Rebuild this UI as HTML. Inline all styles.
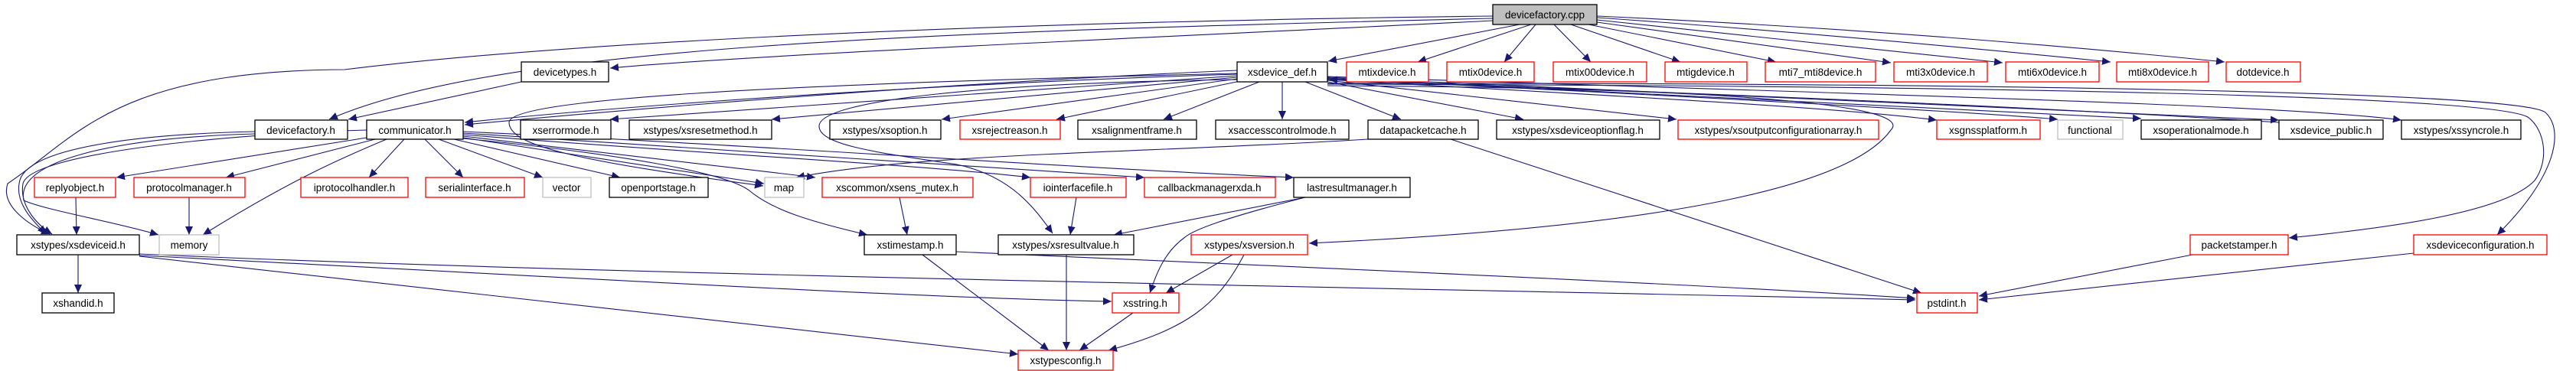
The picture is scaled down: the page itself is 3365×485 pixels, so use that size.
<!DOCTYPE html>
<html><head><meta charset="utf-8"><style>
html,body{margin:0;padding:0;background:#fff;}
svg{display:block;}
text{font-family:"Liberation Sans",sans-serif;font-size:13.5px;fill:#000;text-anchor:middle;}
.b{fill:#fff;stroke:#000;stroke-width:1.3}
.r{fill:#fff;stroke:#f00;stroke-width:1.3}
.g{fill:#fff;stroke:#bfbfbf;stroke-width:1.3}
.c{fill:#bfbfbf;stroke:#000;stroke-width:1.3}
path{fill:none;stroke:#191970;stroke-width:1.1;marker-end:url(#a)}
</style></head><body>
<svg width="3365" height="485" viewBox="0 0 3365 485" xmlns="http://www.w3.org/2000/svg">
<defs><marker id="a" markerUnits="userSpaceOnUse" markerWidth="12" markerHeight="10" refX="11" refY="5" orient="auto"><polygon points="0,0 11,5 0,10" fill="#191970"/></marker></defs>
<g>
<path d="M1985,32 L1735,80"/>
<path d="M2000,32 L1852,81"/>
<path d="M2006,32 L1965,81"/>
<path d="M2030,32 L2078,81"/>
<path d="M2052,32 L2195,81"/>
<path d="M2075,32 L2320,81"/>
<path d="M2086,29 L2470,82"/>
<path d="M2086,26 L2616,82"/>
<path d="M2086,23 Q2400,45 2757,81"/>
<path d="M2086,21 Q2500,40 2906,81"/>
<path d="M1950,27 C1600,45 1000,70 797,89"/>
<path d="M1950,24 C1200,42 650,60 430,156"/>
<path d="M681,107 L455,156"/>
<path d="M1950,21 C1200,30 700,60 450,91 C150,92 100,180 10,240 C0,270 40,295 65,306"/>
<path d="M333,172 C200,175 30,190 25,240 C20,270 50,295 60,306"/>
<path d="M333,175 C150,180 20,210 31,262 C60,275 150,290 207,307"/>
<path d="M1616,97 C1200,110 800,140 607,160"/>
<path d="M1616,92 C1200,110 800,145 607,163"/>
<path d="M1616,99 L797,156"/>
<path d="M1616,101 L1008,156"/>
<path d="M1616,103 L1230,156"/>
<path d="M1620,106 L1380,156"/>
<path d="M1645,107 L1520,156"/>
<path d="M1675,107 L1675,156"/>
<path d="M1705,107 L1830,156"/>
<path d="M1734,107 L1990,156"/>
<path d="M1734,105 L2190,156"/>
<path d="M1734,104 C2100,125 2400,140 2530,157"/>
<path d="M1734,103 C2200,125 2600,148 2688,156"/>
<path d="M1734,102 L2797,155"/>
<path d="M1734,101 L2977,157"/>
<path d="M1734,100 C2500,125 3000,138 3137,157"/>
<path d="M1734,110 C2600,112 3250,125 3302,153 C3325,170 3330,210 3311,236 C3270,280 3100,300 2990,311"/>
<path d="M1734,109 C2600,108 3290,120 3325,147 C3350,170 3340,230 3262,307"/>
<path d="M2977,160 C2500,130 2000,115 1736,104"/>
<path d="M1734,112 C2300,115 2500,140 2470,170 C2420,240 2200,295 1710,318"/>
<path d="M1616,104 C1300,108 1070,130 1070,165 C1070,190 1150,200 1250,215 C1320,230 1350,270 1375,305"/>
<path d="M1616,96 C1000,110 665,130 665,160 C665,190 750,210 997,243"/>
<path d="M479,180 L152,232"/>
<path d="M490,182 L295,232"/>
<path d="M505,182 C450,205 380,235 265,307"/>
<path d="M528,182 L482,232"/>
<path d="M555,182 L605,232"/>
<path d="M573,182 L709,232"/>
<path d="M593,182 L810,232"/>
<path d="M605,180 L998,240"/>
<path d="M605,178 L1065,232"/>
<path d="M605,176 C900,200 1200,215 1346,232"/>
<path d="M605,174 C1000,200 1300,220 1495,232"/>
<path d="M605,172 C1000,190 1400,220 1690,232"/>
<path d="M605,181 C800,200 950,225 980,250 C1010,275 1060,290 1133,307"/>
<path d="M479,170 C300,175 40,200 30,240 C25,270 50,295 68,306"/>
<path d="M99,258 L100,307"/>
<path d="M247,258 L247,307"/>
<path d="M102,333 L102,383"/>
<path d="M182,332 C800,360 2000,380 2502,392"/>
<path d="M182,334 C700,360 1200,390 1452,394"/>
<path d="M182,335 L1330,463"/>
<path d="M1249,329 C1600,345 2200,370 2502,390"/>
<path d="M1205,333 L1370,458"/>
<path d="M1175,258 L1185,307"/>
<path d="M1406,258 L1398,307"/>
<path d="M1705,258 L1455,307"/>
<path d="M1705,258 C1600,285 1560,300 1548,310 C1520,330 1510,360 1502,383"/>
<path d="M1393,333 L1393,458"/>
<path d="M1610,333 L1523,383"/>
<path d="M1625,333 C1590,400 1550,430 1448,458"/>
<path d="M1480,409 L1410,458"/>
<path d="M1787,182 C1500,200 1200,200 1040,232"/>
<path d="M1895,182 L2510,383"/>
<path d="M2864,333 L2585,387"/>
<path d="M3153,331 L2585,392"/>
</g>
<g>
<rect class="c" x="1950" y="6" width="136" height="26"/><text x="2018" y="24">devicefactory.cpp</text>
<rect class="b" x="681" y="81" width="114" height="26"/><text x="738" y="99">devicetypes.h</text>
<rect class="b" x="1616" y="81" width="118" height="26"/><text x="1675" y="99">xsdevice_def.h</text>
<rect class="r" x="1759" y="81" width="107" height="26"/><text x="1812" y="99">mtixdevice.h</text>
<rect class="r" x="1890" y="81" width="114" height="26"/><text x="1947" y="99">mtix0device.h</text>
<rect class="r" x="2029" y="81" width="122" height="26"/><text x="2090" y="99">mtix00device.h</text>
<rect class="r" x="2175" y="81" width="107" height="26"/><text x="2228" y="99">mtigdevice.h</text>
<rect class="r" x="2306" y="81" width="144" height="26"/><text x="2378" y="99">mti7_mti8device.h</text>
<rect class="r" x="2474" y="81" width="122" height="26"/><text x="2535" y="99">mti3x0device.h</text>
<rect class="r" x="2620" y="81" width="122" height="26"/><text x="2681" y="99">mti6x0device.h</text>
<rect class="r" x="2765" y="81" width="120" height="26"/><text x="2825" y="99">mti8x0device.h</text>
<rect class="r" x="2908" y="81" width="97" height="26"/><text x="2956" y="99">dotdevice.h</text>

<rect class="b" x="333" y="157" width="121" height="25"/><text x="393" y="175">devicefactory.h</text>
<rect class="b" x="479" y="157" width="126" height="25"/><text x="542" y="175">communicator.h</text>
<rect class="b" x="680" y="157" width="118" height="25"/><text x="739" y="175">xserrormode.h</text>
<rect class="b" x="822" y="157" width="186" height="25"/><text x="915" y="175">xstypes/xsresetmethod.h</text>
<rect class="b" x="1084" y="157" width="145" height="25"/><text x="1156" y="175">xstypes/xsoption.h</text>
<rect class="r" x="1254" y="157" width="131" height="25"/><text x="1319" y="175">xsrejectreason.h</text>
<rect class="b" x="1408" y="157" width="155" height="25"/><text x="1485" y="175">xsalignmentframe.h</text>
<rect class="b" x="1588" y="157" width="174" height="25"/><text x="1675" y="175">xsaccesscontrolmode.h</text>
<rect class="b" x="1787" y="157" width="144" height="25"/><text x="1859" y="175">datapacketcache.h</text>
<rect class="b" x="1955" y="157" width="213" height="25"/><text x="2061" y="175">xstypes/xsdeviceoptionflag.h</text>
<rect class="r" x="2192" y="157" width="262" height="25"/><text x="2323" y="175">xstypes/xsoutputconfigurationarray.h</text>
<rect class="r" x="2530" y="157" width="135" height="25"/><text x="2597" y="175">xsgnssplatform.h</text>
<rect class="g" x="2688" y="157" width="85" height="25"/><text x="2730" y="175">functional</text>
<rect class="b" x="2797" y="157" width="157" height="25"/><text x="2875" y="175">xsoperationalmode.h</text>
<rect class="b" x="2977" y="157" width="136" height="25"/><text x="3045" y="175">xsdevice_public.h</text>
<rect class="b" x="3137" y="157" width="156" height="25"/><text x="3215" y="175">xstypes/xssyncrole.h</text>

<rect class="r" x="45" y="232" width="106" height="26"/><text x="98" y="250">replyobject.h</text>
<rect class="r" x="175" y="232" width="145" height="26"/><text x="247" y="250">protocolmanager.h</text>
<rect class="r" x="393" y="232" width="140" height="26"/><text x="463" y="250">iprotocolhandler.h</text>
<rect class="r" x="556" y="232" width="129" height="26"/><text x="620" y="250">serialinterface.h</text>
<rect class="g" x="709" y="232" width="63" height="26"/><text x="740" y="250">vector</text>
<rect class="b" x="796" y="232" width="129" height="26"/><text x="860" y="250">openportstage.h</text>
<rect class="g" x="999" y="232" width="51" height="26"/><text x="1024" y="250">map</text>
<rect class="r" x="1074" y="232" width="197" height="26"/><text x="1172" y="250">xscommon/xsens_mutex.h</text>
<rect class="r" x="1346" y="232" width="125" height="26"/><text x="1408" y="250">iointerfacefile.h</text>
<rect class="r" x="1495" y="232" width="171" height="26"/><text x="1580" y="250">callbackmanagerxda.h</text>
<rect class="b" x="1690" y="232" width="152" height="26"/><text x="1766" y="250">lastresultmanager.h</text>

<rect class="b" x="22" y="307" width="160" height="26"/><text x="102" y="325">xstypes/xsdeviceid.h</text>
<rect class="g" x="208" y="307" width="78" height="26"/><text x="247" y="325">memory</text>
<rect class="b" x="1129" y="307" width="120" height="26"/><text x="1189" y="325">xstimestamp.h</text>
<rect class="b" x="1304" y="307" width="177" height="26"/><text x="1392" y="325">xstypes/xsresultvalue.h</text>
<rect class="r" x="1556" y="307" width="152" height="26"/><text x="1632" y="325">xstypes/xsversion.h</text>
<rect class="r" x="2861" y="307" width="128" height="26"/><text x="2925" y="325">packetstamper.h</text>
<rect class="r" x="3153" y="307" width="174" height="26"/><text x="3240" y="325">xsdeviceconfiguration.h</text>

<rect class="b" x="55" y="383" width="94" height="26"/><text x="102" y="401">xshandid.h</text>
<rect class="r" x="1453" y="383" width="87" height="26"/><text x="1496" y="401">xsstring.h</text>
<rect class="r" x="2504" y="383" width="79" height="26"/><text x="2543" y="401">pstdint.h</text>

<rect class="r" x="1330" y="458" width="124" height="26"/><text x="1392" y="476">xstypesconfig.h</text>
</g>
</svg>
</body></html>
